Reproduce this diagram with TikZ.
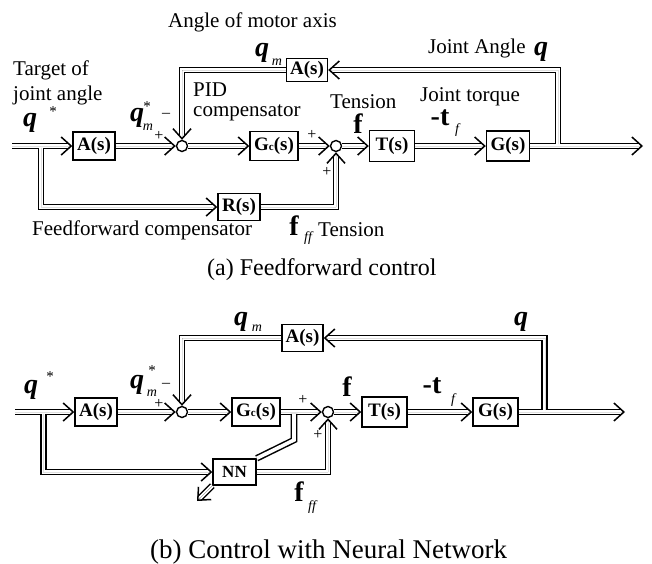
\documentclass[tikz,border=0pt]{standalone}
\usepackage{fontspec}
\setmainfont{Liberation Serif}
\usetikzlibrary{arrows.meta}
\tikzset{
  blk/.style={draw, line width=1.4pt, inner sep=0pt, font=\fontsize{19}{19}\selectfont\bfseries},
  sumj/.style={draw, circle, line width=1.4pt, minimum size=11pt, inner sep=0pt},
  dbl/.style={double, double distance=3.6pt, line width=1.5pt},
  dbla/.style={line width=0.01pt, -{Straight Barb[length=10pt, width=18pt, line width=1.5pt]},
    preaction={draw, -, double, double distance=3.6pt, line width=1.5pt, shorten >=4pt}},
  lab/.style={font=\fontsize{21}{23}\selectfont, inner sep=0pt},
  bigq/.style={font=\fontsize{28}{28}\selectfont\bfseries\itshape, inner sep=0pt},
  bigf/.style={font=\fontsize{28}{28}\selectfont\bfseries, inner sep=0pt},
  sub/.style={font=\fontsize{14}{14}\selectfont\itshape, inner sep=0pt},
  star/.style={font=\fontsize{15}{15}\selectfont, inner sep=0pt},
  sgn/.style={font=\fontsize{16}{16}\selectfont, inner sep=0pt},
}
\begin{document}
\begin{tikzpicture}[x=1pt,y=-1pt]
\useasboundingbox (0,0) rectangle (652,563);
% ---------------- panel (a) ----------------
\node[blk, minimum width=42pt, minimum height=28pt] (A1) at (94,146) {A(s)};
\node[sumj] (S1) at (182,146) {};
\node[blk, minimum width=48pt, minimum height=29pt] (Gc1) at (274,146) {G{\fontsize{11}{11}\selectfont c}(s)};
\node[sumj] (S2) at (336,146) {};
\node[blk, minimum width=45pt, minimum height=31pt] (T1) at (392,146) {T(s)};
\node[blk, minimum width=43pt, minimum height=30pt] (G1) at (508,146) {G(s)};
\node[blk, minimum width=41pt, minimum height=23pt] (AF1) at (307,70) {A(s)};
\node[blk, minimum width=42pt, minimum height=27pt] (R1) at (239,207) {R(s)};
\coordinate (in1) at (12,146);
\coordinate (br1) at (41,147.8);
\coordinate (out1) at (643,146);
\coordinate (fb1) at (558,144.2);

\draw[dbla] (in1) -- (A1.west);
\draw[dbla] (A1.east) -- (S1.west);
\draw[dbla] (S1.east) -- (Gc1.west);
\draw[dbla] (Gc1.east) -- (S2.west);
\draw[dbla] (S2.east) -- (T1.west);
\draw[dbla] (T1.east) -- (G1.west);
\draw[dbla] (G1.east) -- (out1);
\draw[dbla] (br1) |- (R1.west);
\draw[dbla] (R1.east) -| (S2.south);
\draw[dbla] (fb1) |- (AF1.east);
\draw[dbla] (AF1.west) -| (S1.north);

\node[lab, anchor=west] (ta1) at (168,22) {Angle of motor axis};
\node[lab, anchor=west] (ta2) at (13,70) {Target of};
\node[lab, anchor=west] (ta3) at (13,95) {joint angle};
\node[lab, anchor=west] (ta4) at (193,90) {PID};
\node[lab, anchor=west] (ta5) at (193,113) {compensator};
\node[lab, anchor=west] (ta6) at (330,102) {Tension};
\node[lab, anchor=west] (ta7) at (420,97) {Joint torque};
\node[lab, anchor=west] (ta8) at (428,48) {Joint Angle};
\node[lab, anchor=west] (ta9) at (32,230) {Feedforward compensator};
\node[lab, anchor=west] (ta10) at (318,230) {Tension};
\node[font=\fontsize{24}{24}\selectfont, inner sep=0pt, anchor=west] (capa) at (207,270) {(a) Feedforward control};

\node[bigq] (qa1) at (30,123) {q};
\node[star] (qa1s) at (53,112) {*};
\node[bigq] (qa2) at (137,118) {q};
\node[sub] (qa2m) at (148,127) {m};
\node[star] (qa2s) at (147,107) {*};
\node[sgn] (mia) at (166,115) {–};
\node[sgn] (pa1) at (159,136) {+};
\node[bigq] (qa3) at (262,53) {q};
\node[sub] (qa3m) at (277,62) {m};
\node[sgn] (pa2) at (312,135) {+};
\node[sgn] (pa3) at (327,172) {+};
\node[bigf] (fa1) at (358,124) {f};
\node[bigf] (ta) at (440,118) {-t};
\node[sub] (taf) at (457,130) {f};
\node[bigq] (qa4) at (541,52) {q};
\node[bigf] (ffa) at (294,226) {f};
\node[sub] (ffas) at (308,238) {ff};

% ---------------- panel (b) ----------------
\node[blk, minimum width=42pt, minimum height=28pt] (A2) at (96,412) {A(s)};
\node[sumj] (S3) at (182,412) {};
\node[blk, minimum width=48pt, minimum height=28pt] (Gc2) at (256,412) {G{\fontsize{11}{11}\selectfont c}(s)};
\node[sumj] (S4) at (328,412) {};
\node[blk, minimum width=45pt, minimum height=30pt] (T2) at (384.5,412) {T(s)};
\node[blk, minimum width=45pt, minimum height=28pt] (G2) at (495.5,412) {G(s)};
\node[blk, minimum width=41pt, minimum height=27pt] (AF2) at (302.5,338) {A(s)};
\node[blk, minimum width=43pt, minimum height=26pt, font=\fontsize{17}{17}\selectfont\bfseries] (NN) at (234.5,472) {NN};
\coordinate (in2) at (15,412);
\coordinate (br2) at (43.5,413.8);
\coordinate (out2) at (625,412);
\coordinate (fb2) at (544.5,410.2);
\coordinate (gcb) at (294,413.8);
\coordinate (gcd) at (294,440);
\coordinate (nnout) at (197,501);

\draw[dbla] (in2) -- (A2.west);
\draw[dbla] (A2.east) -- (S3.west);
\draw[dbla] (S3.east) -- (Gc2.west);
\draw[dbla] (Gc2.east) -- (S4.west);
\draw[dbla] (S4.east) -- (T2.west);
\draw[dbla] (T2.east) -- (G2.west);
\draw[dbla] (G2.east) -- (out2);
\draw[dbla] (br2) |- (NN.west);
\draw[dbla] (NN.east) -| (S4.south);
\draw[dbla] (fb2) |- (AF2.east);
\draw[dbla] (AF2.west) -| (S3.north);
\draw[dbl] (gcb) -- (gcd) -- (NN.north east);
\draw[dbla] (NN.south west) -- (nnout);

\node[bigq] (qb1) at (31,390) {q};
\node[star] (qb1s) at (50,377) {*};
\node[bigq] (qb2) at (137,385) {q};
\node[sub] (qb2m) at (152,393) {m};
\node[star] (qb2s) at (152,371) {*};
\node[sgn] (mib) at (166,385) {–};
\node[sgn] (pb1) at (159,404) {+};
\node[bigq] (qb3) at (241,322) {q};
\node[sub] (qb3m) at (257,328) {m};
\node[bigq] (qb4) at (521,322) {q};
\node[bigf] (fb) at (347,387) {f};
\node[bigf] (tb) at (432,386) {-t};
\node[sub] (tbf) at (453,400) {f};
\node[sgn] (pb2) at (303,400) {+};
\node[sgn] (pb3) at (318,435) {+};
\node[bigf] (ffb) at (299,492) {f};
\node[sub] (ffbs) at (312,507) {ff};
\node[font=\fontsize{27}{27}\selectfont, inner sep=0pt, anchor=west] (capb) at (150,552) {(b) Control with Neural Network};
\end{tikzpicture}
\end{document}
